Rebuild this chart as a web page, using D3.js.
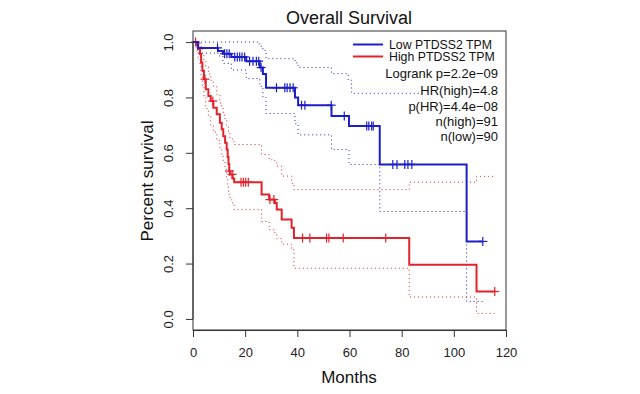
<!DOCTYPE html>
<html>
<head>
<meta charset="utf-8">
<script src="https://cdn.jsdelivr.net/npm/d3@7"></script>
<style>
  html, body { margin: 0; padding: 0; background: #fff; }
  svg { display: block; font-family: "Liberation Sans", Arial, Helvetica, sans-serif; }
</style>
</head>
<body>
<div id="chart"></div>
<script>
// KM steps: [months, survival]
const lowCurve = [[0,1],[1.9,0.979],[9.6,0.968],[11.5,0.958],[14.7,0.946],[20.4,0.931],[25.6,0.908],[26.8,0.885],[28.0,0.835],[39.1,0.80],[40.3,0.772],[53.1,0.733],[59.8,0.697],[71.6,0.558],[104.9,0.28]];
const lowEnd = 111.1;
const lowUpper = [[0,1],[25.6,0.985],[26.8,0.97],[28.0,0.94],[39.1,0.925],[40.3,0.908],[53.1,0.886],[59.5,0.862],[60.8,0.815]];
const lowUpperEnd = 87;   // runs under the legend text
const lowLower = [[0,1],[1.9,0.96],[9.6,0.95],[11.5,0.923],[14.7,0.899],[20.4,0.868],[25.6,0.84],[26.8,0.80],[28.0,0.742],[39.1,0.705],[40.3,0.665],[53.1,0.612],[59.8,0.558],[71.6,0.388],[104.9,0.063]];
const lowCensor = [9.4,12.1,13.0,13.9,16.0,17.0,17.9,18.8,19.8,21.7,23.0,24.3,25.2,26.1,32.0,35.2,36.1,37.2,38.4,41.6,42.9,53.0,58.0,66.6,67.4,68.5,69.1,76.6,78.2,81.2,82.4,83.9,111.1];

const highCurve = [[0,1],[1.4,0.99],[2.0,0.975],[2.7,0.957],[3.1,0.926],[3.6,0.896],[4.2,0.866],[4.9,0.830],[5.9,0.805],[6.8,0.787],[7.8,0.763],[9.1,0.739],[10.3,0.709],[11.0,0.685],[11.6,0.660],[12.3,0.636],[12.9,0.612],[13.3,0.585],[13.6,0.56],[13.9,0.534],[14.2,0.522],[15.2,0.507],[15.8,0.494],[26.3,0.449],[29.2,0.431],[31.4,0.419],[32.1,0.395],[34.0,0.359],[37.8,0.329],[38.7,0.292],[82.9,0.196],[108.7,0.099]];
const highEnd = 115.7;
const highUpper = [[0,1],[2.7,0.99],[3.1,0.975],[3.6,0.953],[4.2,0.93],[4.9,0.91],[5.9,0.885],[6.8,0.862],[7.8,0.84],[9.1,0.81],[10.3,0.78],[11.0,0.76],[11.6,0.736],[12.3,0.72],[12.9,0.70],[13.6,0.67],[14.2,0.65],[15.2,0.64],[15.8,0.63],[26.3,0.594],[29.2,0.575],[31.4,0.565],[32.1,0.552],[34.0,0.516],[37.8,0.49],[38.7,0.467],[82.9,0.494],[108.7,0.515]];
const highLower = [[0,1],[1.4,0.97],[2.0,0.945],[2.7,0.915],[3.1,0.876],[3.6,0.84],[4.2,0.80],[4.9,0.76],[5.9,0.73],[6.8,0.70],[7.8,0.675],[9.1,0.645],[10.3,0.615],[11.0,0.59],[11.6,0.565],[12.3,0.54],[12.9,0.51],[13.3,0.485],[13.6,0.46],[13.9,0.44],[14.2,0.43],[15.2,0.415],[15.8,0.395],[26.3,0.352],[29.2,0.322],[31.4,0.31],[32.1,0.29],[34.0,0.27],[37.8,0.25],[38.7,0.183],[82.9,0.079],[108.7,0.02]];
const highCensor = [1.0,4.6,7.6,14.0,15.0,18.4,19.3,20.2,21.2,29.5,31.0,42.0,44.8,51.2,52.1,57.6,73.9,115.7];

const xTicks = [0,20,40,60,80,100,120];
const yTicks = [0,0.2,0.4,0.6,0.8,1.0];
const legendLabels = ["Low PTDSS2 TPM", "High PTDSS2 TPM"];
const statLabels = ["Logrank p=2.2e\u221209", "HR(high)=4.8", "p(HR)=4.4e\u221208", "n(high)=91", "n(low)=90"];

const blue = "#1c1fc8", red = "#e2232b";

const width = 640, height = 394;
const box = {left: 193, right: 506, top: 31, bottom: 330};

const svg = d3.select("#chart").append("svg")
    .attr("width", width)
    .attr("height", height);

const x = d3.scaleLinear().domain([0, 120]).range([box.left, box.right]);
const y = d3.scaleLinear().domain([-0.04, 1.04]).range([box.bottom, box.top]);

const stepLine = d3.line()
    .x(d => x(d[0]))
    .y(d => y(d[1]))
    .curve(d3.curveStepAfter);

// add the last flat piece up to the end time
const withEnd = (pts, end) => pts.concat([[end, pts[pts.length - 1][1]]]);

const valueAt = (pts, t) => {
    let v = pts[0][1];
    for (const p of pts) if (p[0] <= t) v = p[1];
    return v;
};

// confidence bands (dotted)
const drawCI = (pts, end, col) => {
    svg.append("path")
        .attr("d", stepLine(withEnd(pts, end)))
        .attr("fill", "none")
        .attr("stroke", col)
        .attr("stroke-width", 1)
        .attr("stroke-dasharray", "1,3");
};
drawCI(lowUpper, lowUpperEnd, blue);
drawCI(lowLower, lowEnd, blue);
drawCI(highUpper, highEnd, red);
drawCI(highLower, highEnd, red);

// survival curves
const drawCurve = (pts, end, censor, col) => {
    svg.append("path")
        .attr("d", stepLine(withEnd(pts, end)))
        .attr("fill", "none")
        .attr("stroke", col)
        .attr("stroke-width", 2);

    const g = svg.append("g");
    censor.forEach(t => {
        const cx = x(t), cy = y(valueAt(pts, t));
        g.append("line")
            .attr("x1", cx).attr("x2", cx)
            .attr("y1", cy - 4.5).attr("y2", cy + 4.5)
            .attr("stroke", col).attr("stroke-width", 1.2);
        g.append("line")
            .attr("x1", cx - 4.5).attr("x2", cx + 4.5)
            .attr("y1", cy).attr("y2", cy)
            .attr("stroke", col).attr("stroke-width", 1.2);
    });
};
drawCurve(highCurve, highEnd, highCensor, red);
drawCurve(lowCurve, lowEnd, lowCensor, blue);

// box
svg.append("rect")
    .attr("x", box.left).attr("y", box.top)
    .attr("width", box.right - box.left)
    .attr("height", box.bottom - box.top)
    .attr("fill", "none")
    .attr("stroke", "#333")
    .attr("stroke-width", 1);

// axes, R style
const xAxis = svg.append("g")
    .attr("transform", `translate(0,${box.bottom})`)
    .call(d3.axisBottom(x).tickValues(xTicks).tickSize(7).tickPadding(11).tickFormat(d3.format("d")));
xAxis.select(".domain").attr("stroke", "#333");
xAxis.selectAll(".tick line").attr("stroke", "#333");
xAxis.selectAll("text").style("font-size", "13px").attr("fill", "#222")
    .style("font-family", "'Liberation Sans', Arial, sans-serif");

const yAxis = svg.append("g")
    .attr("transform", `translate(${box.left},0)`)
    .call(d3.axisLeft(y).tickValues(yTicks).tickSize(7).tickFormat(d3.format(".1f")));
yAxis.select(".domain").remove();
yAxis.selectAll(".tick line").attr("stroke", "#333");
yAxis.selectAll("text")
    .style("font-size", "13px")
    .style("font-family", "'Liberation Sans', Arial, sans-serif")
    .attr("fill", "#222")
    .attr("text-anchor", "middle")
    .attr("x", 0).attr("dy", 0)
    .attr("transform", "translate(-23,0) rotate(-90)")
    .attr("dominant-baseline", "middle");
svg.append("line")
    .attr("x1", box.left).attr("x2", box.left)
    .attr("y1", y(0)).attr("y2", y(1))
    .attr("stroke", "#333");

// titles
svg.append("text")
    .attr("x", 349).attr("y", 24)
    .attr("text-anchor", "middle")
    .style("font-size", "18px")
    .attr("fill", "#111")
    .text("Overall Survival");

svg.append("text")
    .attr("x", 349).attr("y", 383)
    .attr("text-anchor", "middle")
    .style("font-size", "17px")
    .attr("fill", "#111")
    .text("Months");

svg.append("text")
    .attr("transform", "translate(153,181) rotate(-90)")
    .attr("text-anchor", "middle")
    .style("font-size", "17px")
    .attr("fill", "#111")
    .text("Percent survival");

// legend
const legendY = [44.5, 56.5];
const legendCols = [blue, red];
legendLabels.forEach((lbl, i) => {
    svg.append("line")
        .attr("x1", 353).attr("x2", 383)
        .attr("y1", legendY[i]).attr("y2", legendY[i])
        .attr("stroke", legendCols[i]).attr("stroke-width", 2);
    svg.append("text")
        .attr("x", 389).attr("y", legendY[i] + 4.3)
        .style("font-size", "12.3px")
        .attr("fill", "#111")
        .text(lbl);
});

const statY = [73, 90, 106, 121, 136.5];
statLabels.forEach((lbl, i) => {
    svg.append("text")
        .attr("x", 498).attr("y", statY[i] + 4.5)
        .attr("text-anchor", "end")
        .style("font-size", "13px")
        .attr("fill", "#111")
        .text(lbl);
});
</script>
</body>
</html>
